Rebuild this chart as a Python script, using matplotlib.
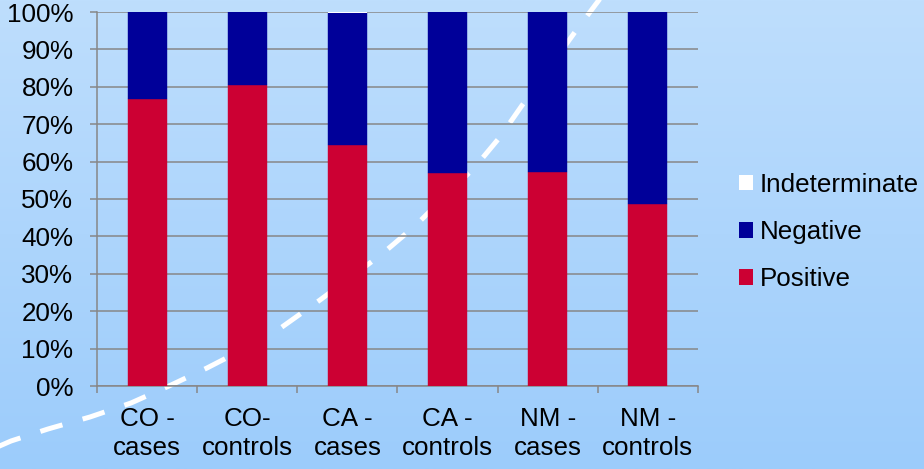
import numpy as np
import matplotlib
matplotlib.use("Agg")
import matplotlib.pyplot as plt
from matplotlib.patches import Patch
from matplotlib.ticker import FixedLocator, PercentFormatter

# ---- data ----
categories = ["CO -\ncases", "CO-\ncontrols", "CA -\ncases", "CA -\ncontrols", "NM -\ncases", "NM -\ncontrols"]
positive = [76.7, 80.6, 64.4, 57.0, 57.2, 48.6]
indeterminate = [0.0, 0.0, 0.4, 0.0, 0.0, 0.0]
negative = [100 - p - i for p, i in zip(positive, indeterminate)]
y_ticks = [0, 10, 20, 30, 40, 50, 60, 70, 80, 90, 100]

RED = "#CC0033"
BLUE = "#000099"
GRID = "#878787"
FS = 18.7

plt.rcParams["font.family"] = ["Liberation Sans", "DejaVu Sans"]
W, H = 924, 469
fig = plt.figure(figsize=(W / 100, H / 100), dpi=100)

# background gradient and decorative dashed arc (pixel coordinates)
bg = fig.add_axes([0, 0, 1, 1], zorder=-1)
top_c = np.array([190, 222, 253]) / 255
bot_c = np.array([156, 204, 251]) / 255
t = np.linspace(0, 1, 256)[:, None]
grad = (top_c[None, :] * (1 - t) + bot_c[None, :] * t)[:, None, :]
bg.imshow(grad, extent=(0, W, H, 0), aspect="auto", interpolation="bilinear")
arc_x = [-5, 11, 48, 90, 131, 169, 207, 240, 275, 320, 382, 415, 475, 500, 523, 575, 605]
arc_y = [448, 441, 429, 417, 403, 386, 368, 351, 332, 300, 254, 226, 167, 137, 104, 32, -8]
bg.plot(arc_x, arc_y, color="white", lw=3.6, linestyle=(0, (4.6, 4.2)),
        solid_capstyle="butt", dash_capstyle="butt")
bg.set_xlim(0, W)
bg.set_ylim(H, 0)
bg.axis("off")

# main chart
ax = fig.add_axes([97 / W, 1 - 386 / H, (698 - 97) / W, (386 - 12) / H])
ax.patch.set_alpha(0)
x = np.arange(len(categories))
bw = 0.39
ax.bar(x, positive, bw, color=RED, edgecolor=RED, lw=0.3, zorder=3)
ax.bar(x, negative, bw, bottom=positive, color=BLUE, edgecolor=BLUE, lw=0.3, zorder=3)
bottoms = [p + n for p, n in zip(positive, negative)]
ax.bar(x, indeterminate, bw, bottom=bottoms, color="white", edgecolor="none", zorder=3)

ax.set_xlim(-0.5, len(categories) - 0.5)
ax.set_ylim(0, 100)
ax.yaxis.set_major_locator(FixedLocator(y_ticks))
ax.yaxis.set_major_formatter(PercentFormatter(decimals=0))
ax.grid(axis="y", color=GRID, lw=1.1, zorder=1)
ax.set_axisbelow(True)

ax.set_xticks(x)
ax.set_xticklabels(categories, linespacing=1.27)
ax.xaxis.set_minor_locator(FixedLocator(np.arange(-0.5, len(categories), 1.0)))
ax.tick_params(axis="x", which="major", length=0, pad=15, labelsize=FS)
ax.tick_params(axis="x", which="minor", length=5, width=1.1, color=GRID)
ax.tick_params(axis="y", length=5, width=1.1, color=GRID, pad=12, labelsize=FS)

for s in ["top", "right"]:
    ax.spines[s].set_visible(False)
for s in ["left", "bottom"]:
    ax.spines[s].set_color(GRID)
    ax.spines[s].set_linewidth(1.1)

handles = [Patch(facecolor="white", edgecolor="none", label="Indeterminate"),
           Patch(facecolor=BLUE, edgecolor="none", label="Negative"),
           Patch(facecolor=RED, edgecolor="none", label="Positive")]
fig.legend(handles=handles, loc="center left", bbox_to_anchor=(739 / W, 1 - 232 / H),
           frameon=False, fontsize=FS, handlelength=0.54, handleheight=0.54,
           handletextpad=0.25, labelspacing=0.9, borderpad=0, borderaxespad=0)

fig.savefig("out.png", dpi=100)
